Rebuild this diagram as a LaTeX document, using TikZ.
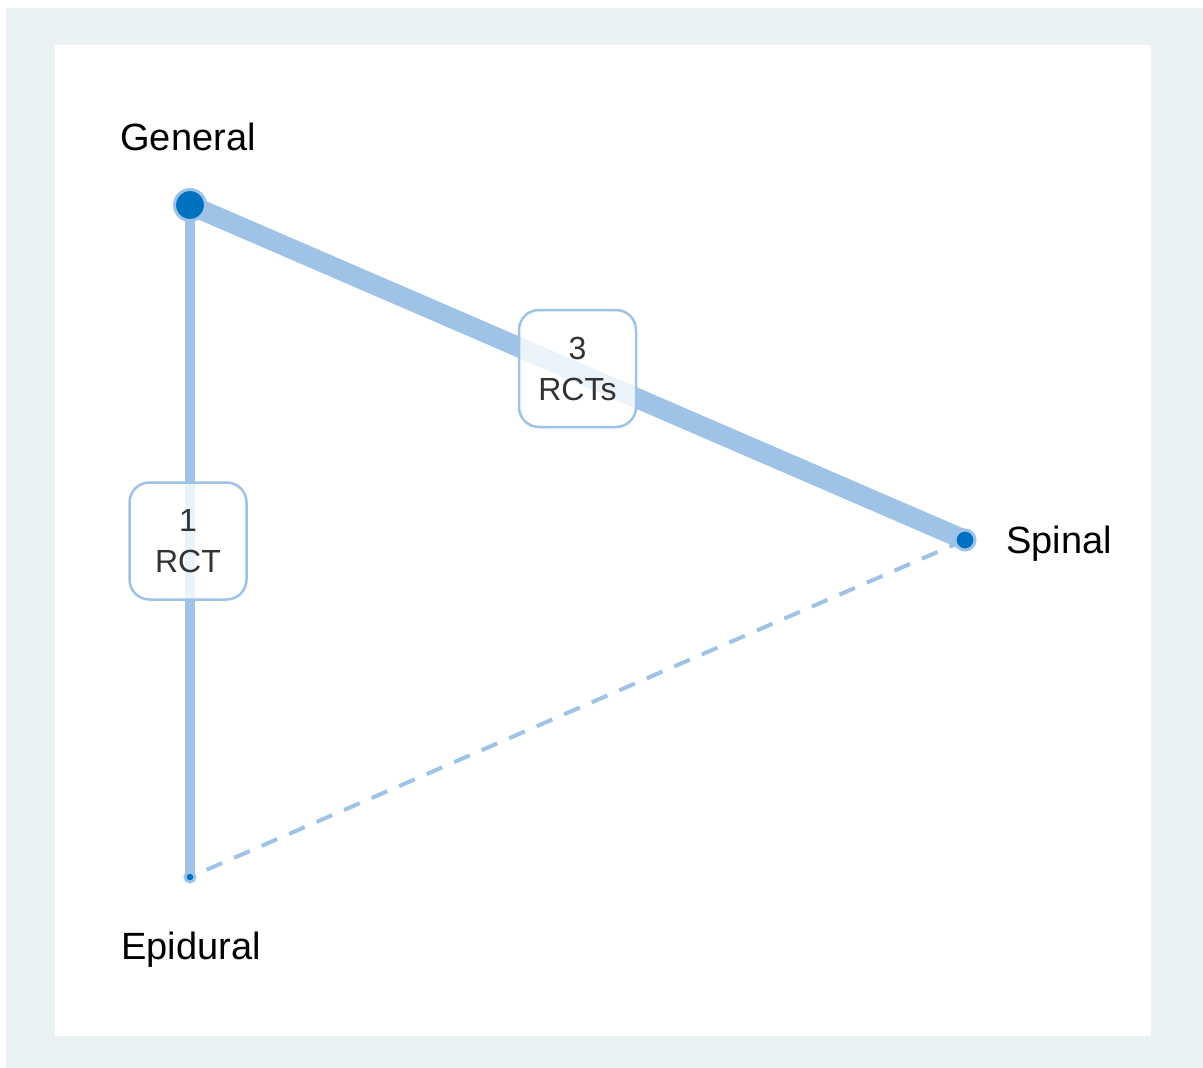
\documentclass[tikz,border=0pt]{standalone}
\usepackage{fontspec}
\setmainfont{Liberation Sans}
\usetikzlibrary{calc}
\definecolor{edgeblue}{RGB}{158,195,230}
\definecolor{nodeblue}{RGB}{0,112,192}
\definecolor{framegray}{RGB}{233,241,243}
\definecolor{labelgray}{RGB}{51,51,51}
\pgfdeclarelayer{bg}
\pgfdeclarelayer{edges}
\pgfsetlayers{bg,edges,main}
\tikzset{
  vertex/.style={circle, fill=nodeblue, draw=edgeblue, line width=3pt, inner sep=0pt},
  vlabel/.style={font=\fontsize{38}{44}\selectfont, text=black, inner sep=0pt},
  edgebox/.style={draw=edgeblue, line width=2.5pt, fill=white, fill opacity=0.8, text opacity=1,
    rounded corners=20pt, minimum width=117pt, minimum height=117pt, inner sep=0pt,
    align=center, text=labelgray, font=\fontsize{32}{41}\selectfont},
  edgeline/.style={draw=edgeblue, line cap=round},
}
\begin{document}
\begin{tikzpicture}[x=1pt,y=-1pt]
\useasboundingbox (0,0) rectangle (1203,1068);
\begin{pgfonlayer}{bg}
  \fill[white] (0,0) rectangle (1203,1068);
  \fill[framegray] (6,8) rectangle (1203,1068);
  \fill[white] (55,45) rectangle (1151,1036);
\end{pgfonlayer}
% vertices
\node[vertex, minimum size=31pt] (g) at (190,205) {};
\node[vertex, minimum size=20pt] (s) at (965,540) {};
\node[vertex, minimum size=10pt] (e) at (190,877) {};
% vertex labels
\node[vlabel, anchor=base] (gl) at (188,150) {General};
\node[vlabel, anchor=base west] (sl) at (1006,553) {Spinal};
\node[vlabel, anchor=base] (el) at (191,959) {Epidural};
% edges
\begin{pgfonlayer}{edges}
  \draw[edgeline, line width=20pt, line cap=butt] (g.center) -- (s.center);
  \draw[edgeline, line width=10pt] (g.center) -- (e.center);
  \draw[edgeline, line width=4pt, line cap=butt, dash pattern=on 17pt off 13pt] (s.center) -- (e.center);
\end{pgfonlayer}
% edge labels
\node[edgebox] (gs) at ($(g)!0.5!(s)+(0,-4)$) {3\\RCTs};
\node[edgebox] (ge) at ($(g)!0.5!(e)+(-2,0)$) {1\\RCT};
\end{tikzpicture}
\end{document}
